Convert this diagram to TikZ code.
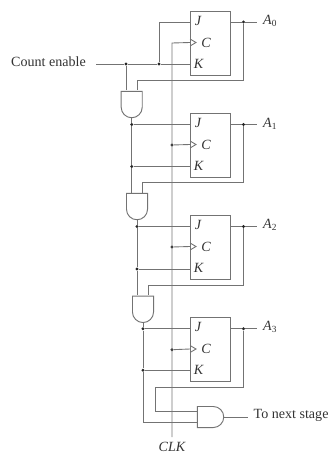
\documentclass[tikz,border=0pt]{standalone}
\usepackage{fontspec}
\usepackage{amsmath}
\setmainfont{Liberation Serif}
\usetikzlibrary{shapes.gates.logic.US}
\definecolor{wirecol}{gray}{0.45}

\begin{document}
\begin{tikzpicture}[x=0.03cm,y=-0.03cm,
    wire/.style={draw=wirecol,line width=0.75pt},
    ffbox/.style={draw=wirecol,line width=0.8pt,minimum width=1.2cm,minimum height=1.92cm,inner sep=0},
    andgate/.style={and gate US,draw=wirecol,line width=0.8pt,logic gate inputs=nn,logic gate input sep=0.165cm,minimum width=0.79cm,minimum height=0.62cm,inner sep=0},
    jct/.style={circle,fill=black!85,inner sep=0,minimum size=2.8pt},
    pin/.style={font=\itshape\fontsize{12}{12}\selectfont,inner sep=0,text=black!80},
    lbl/.style={font=\fontsize{12}{12}\selectfont,inner sep=0,text=black!80}]
  \useasboundingbox (0,0) rectangle (328,453);
  % flip-flops
  \node[ffbox] (ff0) at (210.5,43.5) {};
  \node[ffbox] (ff1) at (210.5,145.5) {};
  \node[ffbox] (ff2) at (210.5,247.3) {};
  \node[ffbox] (ff3) at (210.5,349.3) {};
  \node[pin] (j0) at (198,21) {J};
  \node[pin] (c0) at (206,42.5) {C};
  \node[pin] (k0) at (198.5,63.5) {K};
  \node[pin] (j1) at (198,123) {J};
  \node[pin] (c1) at (206,144.5) {C};
  \node[pin] (k1) at (198.5,165.5) {K};
  \node[pin] (j2) at (198,225) {J};
  \node[pin] (c2) at (206,246.5) {C};
  \node[pin] (k2) at (198.5,267.5) {K};
  \node[pin] (j3) at (198,327) {J};
  \node[pin] (c3) at (206,349) {C};
  \node[pin] (k3) at (198.5,369.5) {K};
  % and gates
  \node[andgate,rotate=-90] (and0) at (131.7,103.7) {};
  \node[andgate,rotate=-90] (and1) at (137,205.7) {};
  \node[andgate,rotate=-90] (and2) at (143,308.5) {};
  \node[andgate] (and3) at (209.7,417) {};
  \coordinate (in0a) at (126,90.5);
  \coordinate (in0b) at (137,90.5);
  \coordinate (in1a) at (131.7,192.5);
  \coordinate (in1b) at (142.5,192.5);
  \coordinate (in2a) at (137,295.3);
  \coordinate (in2b) at (148,295.3);
  \coordinate (in3a) at (196.5,411.3);
  \coordinate (in3b) at (196.5,422.7);
  % junctions
  \node[jct] (en0) at (126,64) {};
  \node[jct] (en1) at (159,64) {};
  \node[jct] (q0) at (243.5,22) {};
  \node[jct] (q1) at (243.5,124.5) {};
  \node[jct] (q2) at (243.5,226.5) {};
  \node[jct] (q3) at (243.5,328.7) {};
  \node[jct] (t1j) at (131.7,124.5) {};
  \node[jct] (t1k) at (131.7,166.5) {};
  \node[jct] (t2j) at (137,226.5) {};
  \node[jct] (t2k) at (137,269) {};
  \node[jct] (t3j) at (143,328.7) {};
  \node[jct] (t3k) at (143,370.3) {};
  \node[jct] (ck1) at (172,145) {};
  \node[jct] (ck2) at (172,247) {};
  \node[jct] (ck3) at (172,349.7) {};
  % labels
  \node[lbl,anchor=west] (enable) at (11,62) {Count enable};
  \node[lbl,anchor=west] (next) at (253.5,415.5) {To next stage};
  \node[pin] (clk) at (172,447) {CLK};
  \node[pin,anchor=west] (a0) at (263,21) {A\textsubscript{\upshape0}};
  \node[pin,anchor=west] (a1) at (263,124) {A\textsubscript{\upshape1}};
  \node[pin,anchor=west] (a2) at (263,225) {A\textsubscript{\upshape2}};
  \node[pin,anchor=west] (a3) at (263,327) {A\textsubscript{\upshape3}};
  % clock line
  \draw[wire] (172,437) -- (172,43) -- (ff0.west |- c0);
  \draw[wire] (ck1) -- (ff1.west |- c1);
  \draw[wire] (ck2) -- (ff2.west |- c2);
  \draw[wire] (ck3) -- (ff3.west |- c3);
  \draw[wire] (ff0.west |- c0) ++(0,-3.5) -- ++(6,3.5) -- ++(-6,3.5);
  \draw[wire] (ff1.west |- c1) ++(0,-3.5) -- ++(6,3.5) -- ++(-6,3.5);
  \draw[wire] (ff2.west |- c2) ++(0,-3.5) -- ++(6,3.5) -- ++(-6,3.5);
  \draw[wire] (ff3.west |- c3) ++(0,-3.5) -- ++(6,3.5) -- ++(-6,3.5);
  % enable
  \draw[wire] (96,64) -- (en0) -- (en1) -- (ff0.west |- en0);
  \draw[wire] (en1) |- (ff0.west |- q0);
  \draw[wire] (en0) -- (in0a);
  % outputs
  \draw[wire] (ff0.east |- q0) -- (q0) -- ++(13.5,0);
  \draw[wire] (ff1.east |- q1) -- (q1) -- ++(13.5,0);
  \draw[wire] (ff2.east |- q2) -- (q2) -- ++(13.5,0);
  \draw[wire] (ff3.east |- q3) -- (q3) -- ++(13.5,0);
  % feedback into gates
  \draw[wire] (q0) -- (243.5,80.5) -| (in0b);
  \draw[wire] (q1) -- (243.5,182.5) -| (in1b);
  \draw[wire] (q2) -- (243.5,285.3) -| (in2b);
  \draw[wire] (q3) -- (243.5,387) -- (155,387) |- (in3a);
  % gate outputs
  \draw[wire] (and0.output) -- (t1j) -- (t1k) -- (in1a);
  \draw[wire] (and1.output) -- (t2j) -- (t2k) -- (in2a);
  \draw[wire] (and2.output) -- (t3j) -- (t3k) |- (in3b);
  \draw[wire] (t1j) -- (ff1.west |- t1j);
  \draw[wire] (t1k) -- (ff1.west |- t1k);
  \draw[wire] (t2j) -- (ff2.west |- t2j);
  \draw[wire] (t2k) -- (ff2.west |- t2k);
  \draw[wire] (t3j) -- (ff3.west |- t3j);
  \draw[wire] (t3k) -- (ff3.west |- t3k);
  \draw[wire,shorten >=5pt] (and3.output) -- (next.west |- and3.output);
\end{tikzpicture}
\end{document}
